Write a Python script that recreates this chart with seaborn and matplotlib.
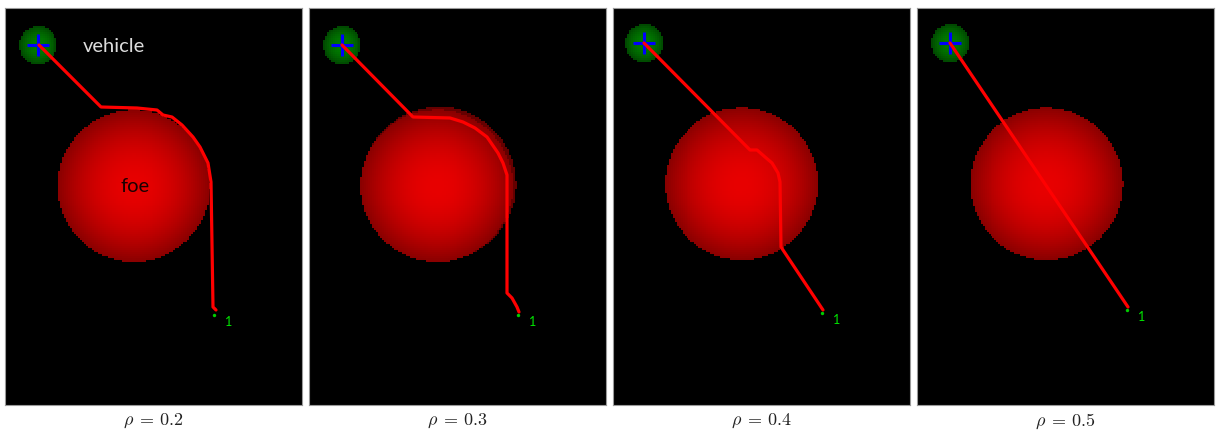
import numpy as np
import matplotlib
matplotlib.use("Agg")
import matplotlib.pyplot as plt
import seaborn as sns

sns.set_theme(style="white")
plt.rcParams['font.family'] = ['Lato', 'DejaVu Sans']
plt.rcParams['mathtext.fontset'] = 'cm'

# ---- data (panel pixel units, origin top-left of each panel) ----
rho_labels = [r"$\rho\:=\:0.2$", r"$\rho\:=\:0.3$", r"$\rho\:=\:0.4$", r"$\rho\:=\:0.5$"]

path1_x = [34, 96, 132, 152, 158, 167, 177, 188, 195, 200, 203, 206, 208, 211]
path1_y = [37, 99, 100, 102, 107, 109, 117, 129, 139, 149, 155, 174, 299, 302]
path2_x = [33, 104, 141, 154, 166, 178, 189, 194, 198, 198, 203, 208, 210]
path2_y = [37, 109, 110, 114, 120, 129, 145, 155, 167, 285, 290, 299, 304]
path3_x = [31, 137, 144, 152, 159, 165, 167, 168, 210]
path3_y = [35, 142, 142, 149, 155, 165, 174, 239, 302]
path4_x = [33, 211]
path4_y = [35, 299]
paths_x = [path1_x, path2_x, path3_x, path4_x]
paths_y = [path1_y, path2_y, path3_y, path4_y]

vehicle_x = [33, 33, 31, 33]
vehicle_y = [37, 37, 35, 35]
vehicle_r = 19
foe_x = [129, 128, 128, 129]
foe_y = [178, 178, 176, 176]
foe_r = 76
goal_x = [210, 210, 210, 211]
goal_y = [304, 304, 302, 299]

PW, PH = 297, 397
GW, GH = 150, 200

fig = plt.figure(figsize=(12.21, 4.34), dpi=100)
fig.patch.set_facecolor("white")
lefts = [5, 309, 613, 917]

gx = (np.arange(GW) + 0.5) * PW / GW
gy = (np.arange(GH) + 0.5) * PH / GH
XX, YY = np.meshgrid(gx, gy)

for k in range(4):
    ax = fig.add_axes([lefts[k] / 1221, (434 - 405) / 434, PW / 1221, PH / 434])
    img = np.zeros((GH, GW, 3))
    # foe
    d = np.hypot(XX - foe_x[k], YY - foe_y[k]) / foe_r
    m = d <= 1
    img[..., 0][m] = (232 - 95 * d[m] ** 2) / 255
    # faint halo in panel 2
    if k == 1:
        d2 = np.hypot(XX - (foe_x[k] + 2), YY - (foe_y[k] - 2)) / (foe_r + 1)
        mh = (d2 <= 1) & ~m
        img[..., 0][mh] = 100 / 255
    # vehicle
    dv = np.hypot(XX - vehicle_x[k], YY - vehicle_y[k]) / vehicle_r
    mv = dv <= 1
    img[..., 0][mv] = 0
    img[..., 1][mv] = (125 - 55 * dv[mv] ** 2) / 255
    ax.imshow(img, extent=[0, PW, PH, 0], interpolation="nearest", aspect="auto", zorder=0)

    ax.plot([vehicle_x[k]], [vehicle_y[k]], marker="+", ms=16.5, mew=2.2,
            color=(0, 0, 1), zorder=2)
    sns.lineplot(x=paths_x[k], y=paths_y[k], sort=False, estimator=None,
                 color=(1, 0, 0), linewidth=2.3, ax=ax, zorder=3)
    sns.scatterplot(x=[goal_x[k] - 1], y=[goal_y[k] + 3], color=(0, 0.8, 0),
                    s=6, linewidth=0, ax=ax, zorder=4)
    ax.text(goal_x[k] + 14, goal_y[k] + 10, "1", color=(0, 0.9, 0),
            fontsize=9, ha="center", va="center", zorder=5)
    if k == 0:
        ax.text(109, 38, "vehicle", color="#dcdcdc", fontsize=14.5,
                fontweight="normal", ha="center", va="center", zorder=6)
        ax.text(130, 178, "foe", color="#1a0000", fontsize=14.5,
                fontweight="normal", ha="center", va="center", zorder=6)

    ax.set_xlim(0, PW)
    ax.set_ylim(PH, 0)
    ax.set_xticks([])
    ax.set_yticks([])
    ax.set_xlabel("")
    ax.set_ylabel("")
    for s in ax.spines.values():
        s.set_color("#9a9a9a")
        s.set_linewidth(0.8)
    fig.text((lefts[k] + PW / 2) / 1221, 1 - 421 / 434, rho_labels[k],
             ha="center", va="center", fontsize=13, color="#222222")

fig.savefig("out.png", dpi=100, facecolor="white")
